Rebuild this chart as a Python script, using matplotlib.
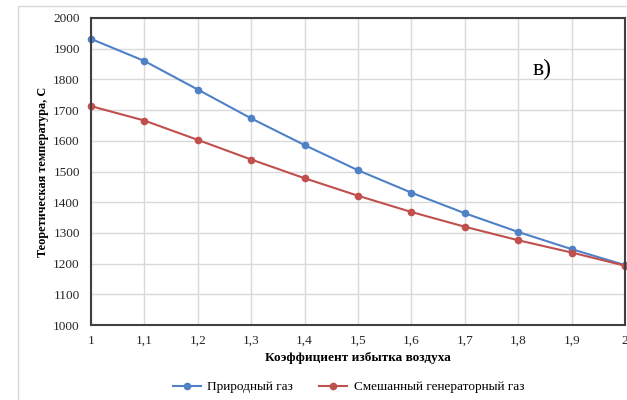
import matplotlib.pyplot as plt
from matplotlib.patches import Rectangle

# коэффициент избытка воздуха
alpha = [1.0, 1.1, 1.2, 1.3, 1.4, 1.5, 1.6, 1.7, 1.8, 1.9, 2.0]
alpha_labels = ["1", "1,1", "1,2", "1,3", "1,4", "1,5", "1,6", "1,7", "1,8", "1,9", "2"]

# теоретическая температура горения, C
t_natural = [1932, 1860, 1767, 1673, 1586, 1504, 1431, 1364, 1303, 1247, 1195]
t_mixed = [1713, 1666, 1603, 1539, 1478, 1421, 1368, 1320, 1276, 1236, 1193]

plt.rcParams['font.family'] = ['Liberation Serif', 'DejaVu Serif']

fig = plt.figure(figsize=(6.27, 4.0), dpi=100)
fig.patches.append(Rectangle((18 / 627, -0.1), 1.0, 1.1 - 6 / 400, transform=fig.transFigure,
                             fill=False, edgecolor='#d9d9d9', linewidth=1.0))
ax = fig.add_axes([0.145, 0.1875, 0.852, 0.7675])

ax.plot(alpha, t_natural, color='#4f81c7', lw=1.5, marker='o', ms=4.5, label='Природный газ', clip_on=False)
ax.plot(alpha, t_mixed, color='#c0504d', lw=1.5, marker='o', ms=4.5, label='Смешанный генераторный газ', clip_on=False)

ax.set_xlim(1, 2)
ax.set_ylim(1000, 2000)
ax.set_xticks(alpha)
ax.set_xticklabels(alpha_labels)
ax.set_yticks(range(1000, 2001, 100))
ax.tick_params(length=0, labelsize=9.5, colors='#262626')
ax.tick_params(axis='x', pad=7)
ax.tick_params(axis='y', pad=8)
ax.grid(color='#d9d9d9', lw=1.0)
ax.set_axisbelow(True)
for s in ax.spines.values():
    s.set_color('#404040')
    s.set_linewidth(1.5)

ax.set_xlabel('Коэффициент избытка воздуха', fontsize=9.5, fontweight='bold', labelpad=4)
ax.set_ylabel('Теоретическая температура, С', fontsize=8.8, fontweight='bold')
ax.yaxis.set_label_coords(-0.078, 0.5)

ax.text(0.826, 0.834, 'в)', transform=ax.transAxes, fontsize=17, va='center')

fig.legend(loc='center', bbox_to_anchor=(0.556, 0.032), ncol=2, frameon=False,
           fontsize=9.5, columnspacing=2.0, handlelength=2.1, handletextpad=0.5)

fig.savefig('out.png', dpi=100)
